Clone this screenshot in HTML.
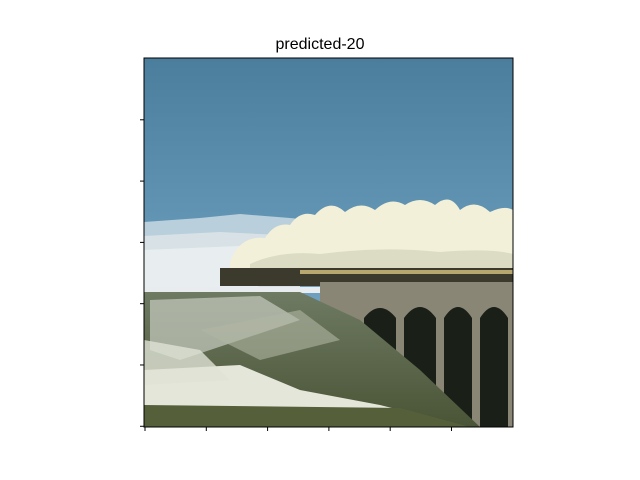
<!DOCTYPE html>
<html><head><meta charset="utf-8"><style>
html,body{margin:0;padding:0;background:#fff;width:640px;height:480px;overflow:hidden}
</style></head><body>
<svg width="640" height="480" viewBox="0 0 640 480" xmlns="http://www.w3.org/2000/svg" font-family="Liberation Sans, sans-serif">
<defs>
<linearGradient id="sky" x1="0" y1="0" x2="0" y2="1">
<stop offset="0" stop-color="#4b7e9c"/><stop offset="0.6" stop-color="#6a9cbc"/><stop offset="1" stop-color="#8fbad2"/>
</linearGradient>
<linearGradient id="hill" x1="0" y1="0" x2="0" y2="1">
<stop offset="0" stop-color="#6e7a62"/><stop offset="1" stop-color="#4a5436"/>
</linearGradient>
<clipPath id="ax"><rect x="144" y="58" width="369" height="369"/></clipPath>
</defs>
<text x="320" y="49" text-anchor="middle" font-size="16" fill="#000">predicted-20</text>
<g clip-path="url(#ax)">
<rect x="144" y="58" width="369" height="369" fill="url(#sky)"/>
<path d="M144 222 L200 218 L240 214 L290 218 L330 222 L330 262 L144 262Z" fill="#b9cfdc"/>
<path d="M144 236 L220 232 L300 236 L300 290 L144 290Z" fill="#d8e2e6"/>
<path d="M144 250 L240 246 L260 290 L144 290Z" fill="#e8eef0"/>
<path d="M230 262 Q240 235 265 238 Q275 222 290 225 Q300 210 315 215 Q330 198 345 212 Q360 200 375 210 Q390 196 405 205 Q420 195 435 205 Q450 192 460 210 Q475 198 490 212 Q505 205 513 210 L513 268 L230 268Z" fill="#f2f0d8"/>
<path d="M250 264 Q280 250 320 254 Q380 246 440 252 Q490 248 513 254 L513 268 L250 268Z" fill="#dcdcc4"/>
<rect x="220" y="268" width="293" height="18" fill="#3c3a2c"/>
<rect x="300" y="270" width="213" height="4" fill="#b8a870"/>
<rect x="144" y="287" width="369" height="6" fill="#e8ecee"/>
<rect x="320" y="282" width="193" height="145" fill="#8a8676"/>
<g fill="#1a2018">
<path d="M364 427 V318 Q380 298 396 318 V427Z"/>
<path d="M404 427 V318 Q420 296 436 318 V427Z"/>
<path d="M444 427 V318 Q458 296 472 318 V427Z"/>
<path d="M480 427 V318 Q494 296 508 318 V427Z"/>
</g>
<path d="M144 292 L300 292 L360 320 L420 370 L480 427 L144 427Z" fill="url(#hill)"/>
<path d="M150 300 L260 296 L300 320 L240 340 L180 360 L150 350Z" fill="#c8ccc0" opacity="0.7"/>
<path d="M200 330 L300 310 L340 340 L260 360Z" fill="#b0b6a4" opacity="0.6"/>
<path d="M144 370 L240 365 L300 390 L380 405 L420 415 L300 418 L144 412Z" fill="#e4e6da"/>
<path d="M144 405 L400 408 L470 427 L144 427Z" fill="#55603a"/>
<path d="M144 340 L200 350 L230 380 L144 385Z" fill="#dfe2d4" opacity="0.8"/>
</g>
<rect x="144" y="58" width="369" height="369" fill="none" stroke="#000" stroke-width="1"/>
<g id="ticks"></g>
</svg>
<script>
const xTicks=[0,50,100,150,200,250];
const yTicks=[50,100,150,200,250,300];
const imgSize=301;
const x0=145,y0=58,scale=369/imgSize;
const g=document.getElementById('ticks');
const ns='http://www.w3.org/2000/svg';
xTicks.forEach(v=>{const l=document.createElementNS(ns,'line');const x=x0+v*scale;
l.setAttribute('x1',x);l.setAttribute('x2',x);l.setAttribute('y1',427);l.setAttribute('y2',431);l.setAttribute('stroke','#000');

g.appendChild(l);});
yTicks.forEach(v=>{const l=document.createElementNS(ns,'line');const y=y0+v*scale+0.5;
l.setAttribute('x1',140);l.setAttribute('x2',144);l.setAttribute('y1',y);l.setAttribute('y2',y);l.setAttribute('stroke','#000');

g.appendChild(l);});
</script>
</body></html>
